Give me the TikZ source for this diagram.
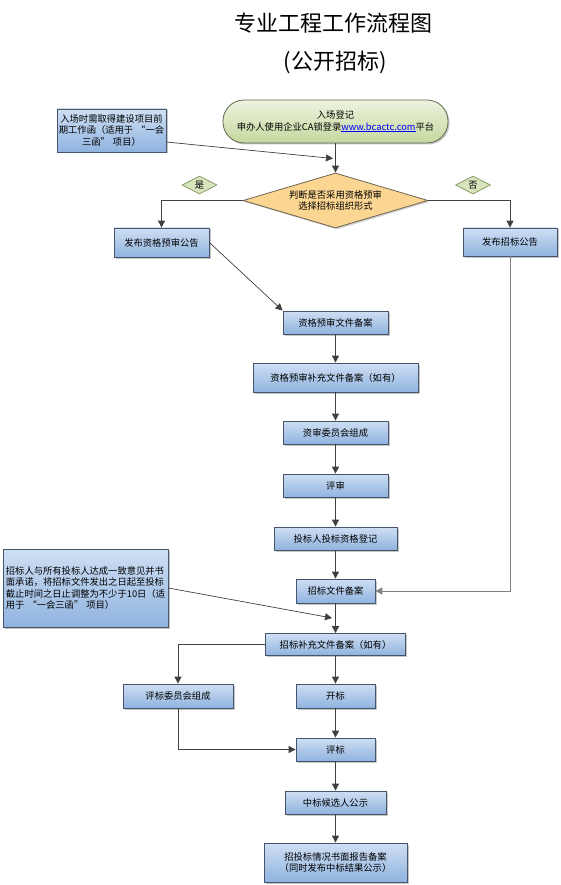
\documentclass[tikz,border=0pt]{standalone}
\usepackage{fontspec}
\setmainfont{Noto Sans CJK SC}
\usetikzlibrary{arrows.meta,shapes.geometric,shadows,calc}
\definecolor{boxtop}{HTML}{CFDFF3}
\definecolor{boxbot}{HTML}{8FB3DF}
\definecolor{boxline}{HTML}{46556A}
\definecolor{pilltop}{HTML}{EEF3DF}
\definecolor{pillbot}{HTML}{C5D89E}
\definecolor{pillline}{HTML}{5E6A4E}
\definecolor{decfill}{HTML}{FBD693}
\definecolor{decline}{HTML}{6E6350}
\definecolor{ynfill}{HTML}{D7E4BD}
\definecolor{ynline}{HTML}{7F945A}
\definecolor{conn}{HTML}{404040}
\definecolor{linkblue}{HTML}{0000FF}
\newcommand{\oq}{\hspace{3pt}“}
\newcommand{\cq}{”\hspace{3pt}}
\tikzset{
  every node/.style={font=\fontsize{9.3pt}{11.5pt}\selectfont, inner sep=0pt, align=center},
  procbox/.style={rectangle, draw=boxline, line width=0.8pt, top color=boxtop, bottom color=boxbot,
    drop shadow={shadow xshift=1.5pt, shadow yshift=-1.5pt, opacity=0.45, fill=gray}},
  notebox/.style={procbox},
  pill/.style={rectangle, rounded corners=21pt, draw=pillline, line width=0.8pt, top color=pilltop, bottom color=pillbot,
    drop shadow={shadow xshift=1.5pt, shadow yshift=-1.5pt, opacity=0.45, fill=gray}},
  decision/.style={diamond, aspect=3.36, draw=decline, line width=0.8pt, fill=decfill,
    drop shadow={shadow xshift=1.5pt, shadow yshift=-1.5pt, opacity=0.35, fill=gray}},
  yn/.style={diamond, aspect=1.95, draw=ynline, line width=0.7pt, fill=ynfill, minimum width=35pt, minimum height=18pt},
  arr/.style={draw=conn, line width=0.9pt, -{Triangle[length=7pt,width=7pt]}},
  thinarr/.style={draw=conn, line width=0.7pt, -{Triangle[length=7pt,width=7pt]}},
  titlefont/.style={font=\fontsize{22pt}{26pt}\selectfont}
}
\begin{document}
\begin{tikzpicture}[x=1pt, y=-1pt]
\useasboundingbox (0,0) rectangle (560,885);
% title
\node[titlefont] (t1) at (333,23) {专业工程工作流程图};
\node[titlefont] (t2) at (335,62) {(公开招标)};
% start
\node[pill, minimum width=225pt, minimum height=43pt] (start) at (335.5,121.5)
  {入场登记\\申办人使用企业CA锁登录\textcolor{linkblue}{\underline{www.bcactc.com}}平台};
\node[notebox, minimum width=109pt, minimum height=43pt] (note1) at (111.5,130.5)
  {入场时需取得建设项目前\\期工作函（适用于\oq 一会\\三函\cq 项目）};
\node[decision, minimum width=185pt, minimum height=55pt] (dec) at (335.5,200.5)
  {判断是否采用资格预审\\选择招标组织形式};
\node[yn] (yes) at (199.5,185) {是};
\node[yn] (no) at (473,185) {否};
\node[procbox, minimum width=95pt, minimum height=29pt] (n1) at (161.5,242.5) {发布资格预审公告};
\node[procbox, minimum width=94pt, minimum height=28pt] (n2) at (510,242) {发布招标公告};
\node[procbox, minimum width=105pt, minimum height=23pt] (n3) at (335.5,322.5) {资格预审文件备案};
\node[procbox, minimum width=165pt, minimum height=29pt] (n4) at (335.5,377.5) {资格预审补充文件备案（如有）};
\node[procbox, minimum width=105pt, minimum height=23pt] (n5) at (335.5,432.5) {资审委员会组成};
\node[procbox, minimum width=105pt, minimum height=23pt] (n6) at (335.5,485.5) {评审};
\node[procbox, minimum width=123pt, minimum height=23pt] (n7) at (335.5,538.5) {投标人投标资格登记};
\node[procbox, minimum width=79pt, minimum height=24pt] (n8) at (335.5,591) {招标文件备案};
\node[notebox, minimum width=165pt, minimum height=78pt, align=left] (note2) at (85.5,588)
  {招标人与所有投标人达成一致意见并书\\面承诺，将招标文件发出之日起至投标\\截止时间之日止调整为不少于10日（适\\用于\oq 一会三函\cq 项目）};
\node[procbox, minimum width=140pt, minimum height=22pt] (n9) at (335.5,644.5) {招标补充文件备案（如有）};
\node[procbox, minimum width=110pt, minimum height=24pt] (n10) at (178,696) {评标委员会组成};
\node[procbox, minimum width=79pt, minimum height=24pt] (n11) at (335.5,696) {开标};
\node[procbox, minimum width=79pt, minimum height=23pt] (n12) at (335.5,749.5) {评标};
\node[procbox, minimum width=101pt, minimum height=23pt] (n13) at (335.5,802.5) {中标候选人公示};
\node[procbox, minimum width=143pt, minimum height=39pt] (n14) at (335.5,862.5) {招投标情况书面报告备案\\（同时发布中标结果公示）};
% junction coordinates
\coordinate (j1) at (333,158.5);
\coordinate (j2) at (332,618);
% connectors
\draw[arr] (start.south) -- (dec.north);
\draw[thinarr] ([yshift=-11.5pt]note1.east) -- (j1);
\draw[arr] (dec.west) -| (n1.north);
\draw[arr] (dec.east) -| (n2.north);
\draw[thinarr] (n1.east) -- (n3.north west);
\draw[arr] (n3.south) -- (n4.north);
\draw[arr] (n4.south) -- (n5.north);
\draw[arr] (n5.south) -- (n6.north);
\draw[arr] (n6.south) -- (n7.north);
\draw[arr] (n7.south) -- (n8.north);
\draw[arr, draw=gray] (n2.south) |- (n8.east);
\draw[thinarr] (note2.east) -- (j2);
\draw[arr] (n8.south) -- (n9.north);
\draw[arr] (n9.west) -| (n10.north);
\draw[arr] (n9.south) -- (n11.north);
\draw[arr] (n11.south) -- (n12.north);
\draw[arr] (n10.south) |- (n12.west);
\draw[arr] (n12.south) -- (n13.north);
\draw[arr] (n13.south) -- (n14.north);
\end{tikzpicture}
\end{document}
